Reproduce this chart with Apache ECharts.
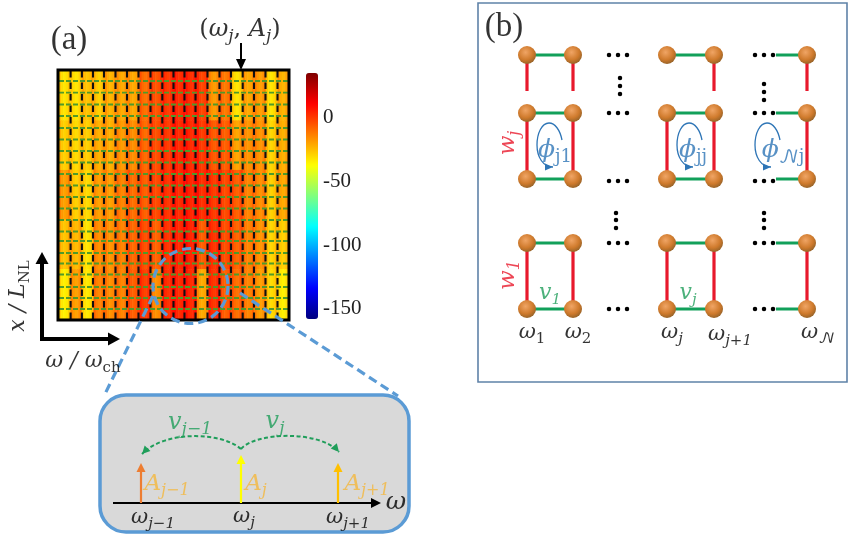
<!DOCTYPE html>
<html><head><meta charset="utf-8">
<style>html,body{margin:0;padding:0;background:#fff}#c{width:850px;height:537px}</style>
<script src="https://cdn.jsdelivr.net/npm/echarts@6/dist/echarts.min.js"></script>
</head><body><div id="c"></div>
<script>
// ---- heatmap values (dB) read at stripe centres, five horizontal bands
const bandTop   = [-33,-33,-27,-29,-24,-22,-22,-11,-6,-1,1,1,-3,-19,-13,-33,-22,-20,-33,-24];
const bandUpper = [-29,-31,-29,-23,-23,-19,-17,-10,-5,-1,2,2,-1,-7,-8,-21,-18,-18,-30,-23];
const bandMid   = [-20,-29,-31,-20,-20,-15,-11,-8,-4,0,2,3,1,-1,-4,-8,-15,-17,-29,-22];
const bandLower = [-27,-25,-33,-17,-18,-15,-10,-5,-9,0,2,3,-8,0,-5,-9,-15,-18,-30,-29];
const bandBottom= [-35,-20,-34,-15,-17,-15,-8,-2,-17,1,2,2,-22,0,-8,-11,-15,-20,-31,-35];
const stripeEdgeRise = [7,2,0,2,7];
const colorbarTicks = [-150,-100,-50,0];
const jet = ['#00007f','#0000ff','#007fff','#00ffff','#7fff7f','#ffff00','#ff7f00','#ff0000','#7f0000'];

// ---- overlay lattice on the heatmap
const coupleX = [70.6,81.9,93,104,115.5,127,138.5,150.5,162.3,173.5,184.5,195.5,207.5,219.5,231,242.7,254,265.5,277.5];
const coupleY = [81,92.6,104.5,116,128,139.5,151,162.5,174,185.5,197,208.5,220,231.5,241,253,263.5,274.5,287,298,309];

// ---- panel (b) lattice
const latticeCols = [527,573,667,714,807];
const latticeRows = [55,113,179,243,309];
const rungSpans = [[527,573],[667,714],[776,807]];
const railSpans = [[55,91,[527,573,714,807]],[113,179,[527,573,667,714,807]],[243,309,[527,573,667,714,807]]];
const dotRowsH = [55,113,181,243,309];
const dotColsH = [609,618,627,755,764,773];
const dotsV = [[620,78],[620,86],[620,94],[764,84],[764,92],[764,100],[616,213],[616,220],[616,228],[764,213],[764,220],[764,228]];
const loopShifts = [0,140,218];

const SERIF = 'Liberation Serif', MATH = 'DejaVu Serif';
const labels = [
 ['{p|(a)}',69,40,33,'#000',0],['{p|(b)}',504,27,33,'#000',0],
 ['{r|(}{m|ω}{s|j}{r|, }{m|A}{s|j}{r|)}',240,30,24,'#000',0],
 ['{m|x / L}{t|NL}',18,296,22,'#000',90],['{m|ω / ω}{t|ch}',83,361,22,'#000',0],
 ['{m|A}{s|j−1}',167,484,23,'#f4b73b',0],['{m|A}{s|j}',256,484,23,'#f4b73b',0],['{m|A}{s|j+1}',367,484,23,'#f4b73b',0],
 ['{m|ω}{s|j−1}',153,518,21,'#000',0],['{m|ω}{s|j}',244,517,21,'#000',0],['{m|ω}{s|j+1}',348,518,21,'#000',0],
 ['{m|ω}',396,502,25,'#000',0],
 ['{m|v}{s|j−1}',190,423,24,'#1f9e5a',0],['{m|v}{s|j}',275,422,24,'#1f9e5a',0],
 ['{m|w}{s|j}',508,143,23,'#e8192c',90],['{m|w}{s|1}',508,275,23,'#e8192c',90],
 ['{m|v}{s|1}',550,293,22,'#1f9e5a',0],['{m|v}{s|j}',688,293,22,'#1f9e5a',0],
 ['{m|ω}{t|1}',532,333,21,'#000',0],['{m|ω}{t|2}',578,333,21,'#000',0],['{m|ω}{s|j}',672,333,21,'#000',0],
 ['{m|ω}{s|j+1}',730,335,21,'#000',0],['{m|ω}{n|𝒩}',818,333,21,'#000',0],
 ['{m|ϕ}{t|j1}',555,150,25,'#2e75b6',0],['{m|ϕ}{t|jj}',693,150,25,'#2e75b6',0],['{m|ϕ}{n|𝒩}{t|j}',783,150,25,'#2e75b6',0]
];

// ---- helpers building the tables the library needs
const bands = [bandTop,bandUpper,bandMid,bandLower,bandBottom];
const heatData = [];
bands.forEach((band,r)=>band.forEach((v,c)=>stripeEdgeRise.forEach((e,k)=>heatData.push([c*stripeEdgeRise.length+k,r,v+e]))));
const subCols = bandTop.length*stripeEdgeRise.length;
const xCats = Array.from({length:subCols},(_,i)=>String(i));
const yCats = bands.map((_,i)=>String(i));

const BLUE='#5b9bd5', RED='#e8192c', GREEN='#12a05a', ARC='#1f9e5a', LOOP='#2e75b6';
const shapes = [];
const line=(x1,y1,x2,y2,color,width,o={})=>shapes.push({k:'line',p:[x1,y1,x2,y2],color,width,...o});
const bez=(p,color,width,o={})=>shapes.push({k:'bez',p,color,width,...o});

// heatmap overlays
coupleX.forEach(x=>line(x,71,x,319,'#111',2.1,{dash:[6.5,5]}));
coupleY.forEach(y=>line(59,y,288,y,'#4f9a2a',1.8,{dash:[5,2]}));
shapes.push({k:'rect',p:[58,70,231,250],color:'#000',width:3});
line(241,43,241,70,'#000',2,{arrow:[11,5]});
// axis arrows
line(42,339,42,252,'#000',4,{arrow:[12,6.5]});
line(40,339,120,339,'#000',4,{arrow:[12,6.5]});
// zoom inset
shapes.push({k:'rect',p:[100,395,309,137],color:BLUE,width:3.5,fill:'#d9d9d9',r:26});
shapes.push({k:'circle',p:[190.5,286,37.5],color:BLUE,width:3.2,dash:[9,5]});
line(153,296,104,396,BLUE,3.2,{dash:[9,5]});
line(240,293,398,396,BLUE,3.2,{dash:[9,5]});
line(113,503,381,503,'#000',2.2,{arrow:[10,5]});
line(141,503,141,463,'#ed7d31',2.2,{arrow:[9,4.5]});
line(241,503,241,455,'#ffff00',2.2,{arrow:[9,4.5]});
line(338,503,338,463,'#ffc000',2.2,{arrow:[9,4.5]});
bez([241,449,222,432,165,430,142,454],ARC,2,{dash:[4,2.5],arrow:[8,4]});
bez([241,449,255,432,320,430,339,452],ARC,2,{dash:[4,2.5],arrow:[8,4]});
// panel (b)
shapes.push({k:'rect',p:[478,3,369,379],color:'#5f82a8',width:1.6});
latticeRows.forEach(y=>rungSpans.forEach(s=>line(s[0],y,s[1],y,GREEN,3)));
railSpans.forEach(s=>s[2].forEach(x=>line(x,s[0],x,s[1],RED,3.2)));
loopShifts.forEach(d=>{
  bez([562+d,140,560+d,130,555+d,123,549+d,123],LOOP,1.3);
  bez([549+d,123,542+d,123,537+d,133,537+d,145],LOOP,1.3);
  bez([537+d,145,537+d,157,543+d,167,553+d,167],LOOP,1.3,{arrow:[8,3.5]});
});

function head(tip,from,a,color){
  const dx=tip[0]-from[0],dy=tip[1]-from[1],l=Math.hypot(dx,dy)||1,ux=dx/l,uy=dy/l;
  const bx=tip[0]-ux*a[0],by=tip[1]-uy*a[0];
  return {type:'polygon',shape:{points:[tip,[bx-uy*a[1],by+ux*a[1]],[bx+uy*a[1],by-ux*a[1]]]},style:{fill:color}};
}
function renderShape(params,api){
  const s=shapes[params.dataIndex],p=s.p,stroke={stroke:s.color,lineWidth:s.width,fill:null,lineDash:s.dash||null};
  if(s.k==='line'){
    const a=api.coord([p[0],p[1]]),b=api.coord([p[2],p[3]]),kids=[];
    let end=b;
    if(s.arrow){const l=Math.hypot(b[0]-a[0],b[1]-a[1]);const t=1-(s.arrow[0]-1)/l;end=[a[0]+(b[0]-a[0])*t,a[1]+(b[1]-a[1])*t];}
    kids.push({type:'line',shape:{x1:a[0],y1:a[1],x2:end[0],y2:end[1]},style:stroke});
    if(s.arrow)kids.push(head(b,a,s.arrow,s.color));
    return {type:'group',children:kids};
  }
  if(s.k==='bez'){
    const a=api.coord([p[0],p[1]]),c1=api.coord([p[2],p[3]]),c2=api.coord([p[4],p[5]]),b=api.coord([p[6],p[7]]);
    const kids=[{type:'bezierCurve',shape:{x1:a[0],y1:a[1],cpx1:c1[0],cpy1:c1[1],cpx2:c2[0],cpy2:c2[1],x2:b[0],y2:b[1]},style:stroke}];
    if(s.arrow)kids.push(head(b,c2,s.arrow,s.color));
    return {type:'group',children:kids};
  }
  if(s.k==='rect'){
    const a=api.coord([p[0],p[1]]),b=api.coord([p[0]+p[2],p[1]+p[3]]);
    return {type:'rect',shape:{x:a[0],y:a[1],width:b[0]-a[0],height:b[1]-a[1],r:s.r||0},style:{...stroke,fill:s.fill||null}};
  }
  const c=api.coord([p[0],p[1]]);
  return {type:'circle',shape:{cx:c[0],cy:c[1],r:p[2]},style:stroke};
}
const nodes=[];latticeRows.forEach(y=>latticeCols.forEach(x=>nodes.push([x,y])));
const hDots=[];dotRowsH.forEach(y=>dotColsH.forEach(x=>hDots.push([x,y])));

function rich(size,color){
  const b={fontFamily:MATH,color,lineHeight:Math.round(size*1.3)};
  const sub=Math.round(size*.7);
  return {
    p:{...b,fontFamily:SERIF,fontSize:size,verticalAlign:'middle'},
    m:{...b,fontSize:size,fontStyle:'italic',verticalAlign:'middle'},
    r:{...b,fontSize:size,verticalAlign:'middle'},
    s:{...b,fontSize:sub,fontStyle:'italic',verticalAlign:'bottom'},
    t:{...b,fontSize:sub,verticalAlign:'bottom'},
    n:{...b,fontFamily:'DejaVu Math TeX Gyre, DejaVu Serif',fontSize:sub,verticalAlign:'bottom'}
  };
}
const labelData=labels.map(l=>({value:[l[1],l[2]],label:{show:true,position:'inside',formatter:l[0],rotate:l[5],rich:rich(l[3],l[4])}}));

const chart=echarts.init(document.getElementById('c'),null,{renderer:'canvas'});
chart.setOption({
  animation:false,backgroundColor:'#fff',
  grid:[
    {left:59,top:71,width:230,height:248},
    {left:306,top:73,width:12,height:246},
    {left:0,top:0,width:850,height:537}
  ],
  xAxis:[
    {gridIndex:0,type:'category',data:xCats,show:false},
    {gridIndex:1,type:'value',show:false},
    {gridIndex:2,type:'value',min:0,max:850,show:false}
  ],
  yAxis:[
    {gridIndex:0,type:'category',data:yCats,inverse:true,show:false},
    {gridIndex:1,type:'value',min:-158,max:35,position:'right',
     axisLine:{show:false},axisTick:{show:false},splitLine:{show:false},z:10,
     axisLabel:{show:true,customValues:colorbarTicks,margin:5,align:'left',fontFamily:SERIF,fontSize:21,color:'#222'}},
    {gridIndex:2,type:'value',min:0,max:537,inverse:true,show:false}
  ],
  visualMap:{type:'continuous',seriesIndex:0,min:-158,max:35,left:306,top:73,itemWidth:12,itemHeight:246,padding:0,
    calculable:false,text:null,showLabel:false,handleSize:0,indicatorSize:0,inRange:{color:jet},textStyle:{fontSize:0,color:'transparent'},
    formatter:()=>''},
  series:[
    {type:'heatmap',xAxisIndex:0,yAxisIndex:0,data:heatData,z:1,silent:true},
    {type:'custom',xAxisIndex:2,yAxisIndex:2,coordinateSystem:'cartesian2d',data:shapes.map(s=>[s.p[0],s.p[1]]),renderItem:renderShape,clip:false,z:3,silent:true},
    {type:'scatter',xAxisIndex:2,yAxisIndex:2,data:nodes,symbolSize:18,z:4,silent:true,
     itemStyle:{opacity:1,color:{type:'radial',x:.42,y:.35,r:.7,colorStops:[{offset:0,color:'#f0a565'},{offset:.6,color:'#cf7a2c'},{offset:1,color:'#8d5f28'}]}}},
    {type:'scatter',xAxisIndex:2,yAxisIndex:2,data:hDots.concat(dotsV),symbolSize:4.5,itemStyle:{color:'#000',opacity:1},z:4,silent:true},
    {type:'scatter',xAxisIndex:2,yAxisIndex:2,data:labelData,symbolSize:1,itemStyle:{color:'transparent'},z:6,silent:true}
  ]
});
</script></body></html>
